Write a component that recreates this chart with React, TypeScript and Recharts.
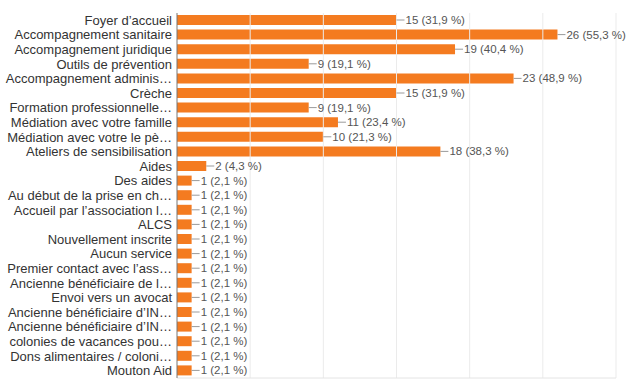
import { Bar, BarChart, LabelList, ReferenceLine, XAxis, YAxis } from 'recharts'

const categories = [
  'Foyer d’accueil',
  'Accompagnement sanitaire',
  'Accompagnement juridique',
  'Outils de prévention',
  'Accompagnement adminis…',
  'Crèche',
  'Formation professionnelle…',
  'Médiation avec votre famille',
  'Médiation avec votre le pè…',
  'Ateliers de sensibilisation',
  'Aides',
  'Des aides',
  'Au début de la prise en ch…',
  'Accueil par l’association l…',
  'ALCS',
  'Nouvellement inscrite',
  'Aucun service',
  'Premier contact avec l’ass…',
  'Ancienne bénéficiaire de l…',
  'Envoi vers un avocat',
  'Ancienne bénéficiaire d’IN…',
  'Ancienne bénéficiaire d’IN…',
  'colonies de vacances pou…',
  'Dons alimentaires / coloni…',
  'Mouton Aid'
]

const counts = [15, 26, 19, 9, 23, 15, 9, 11, 10, 18, 2, 1, 1, 1, 1, 1, 1, 1, 1, 1, 1, 1, 1, 1, 1]

const percents = [
  '31,9', '55,3', '40,4', '19,1', '48,9', '31,9', '19,1', '23,4', '21,3', '38,3', '4,3',
  '2,1', '2,1', '2,1', '2,1', '2,1', '2,1', '2,1', '2,1', '2,1', '2,1', '2,1', '2,1', '2,1', '2,1'
]

const gridValues = [5, 10, 15, 20, 25, 30]

const data = categories.map((name, i) => ({
  key: String(i),
  name,
  count: counts[i],
  label: `${counts[i]} (${percents[i]} %)`
}))

const FONT = 'Liberation Sans, Arial, sans-serif'

function CategoryTick(props: any) {
  const { x, y, payload } = props
  return (
    <text
      x={Number(x) - 3}
      y={Number(y)}
      dy={4.5}
      textAnchor="end"
      fontSize={13}
      fontFamily={FONT}
      fill="#333"
    >
      {categories[Number(payload.value)]}
    </text>
  )
}

function ValueLabel(props: any) {
  const { x, y, width, height, index } = props
  const endX = Number(x) + Number(width)
  const cy = Number(y) + Number(height) / 2
  return (
    <g>
      <line x1={endX} y1={cy} x2={endX + 8} y2={cy} stroke="#9a9a9a" strokeWidth={1} />
      <text x={endX + 9} y={cy} dy={4} fontSize={11.5} fontFamily={FONT} fill="#555">
        {data[index].label}
      </text>
    </g>
  )
}

export default function App() {
  return (
    <div style={{ position: 'fixed', left: 0, top: 0, width: 638, height: 385, background: '#fff' }}>
      <BarChart
        width={638}
        height={385}
        data={data}
        layout="vertical"
        margin={{ top: 13, right: 22, left: 0, bottom: 6 }}
        barCategoryGap={0}
      >
        <XAxis
          type="number"
          domain={[0, 30]}
          height={1}
          tick={false}
          tickLine={false}
          axisLine={{ stroke: '#e4e4e4' }}
        />
        <YAxis
          type="category"
          dataKey="key"
          width={177}
          interval={0}
          tickLine={false}
          tickSize={0}
          axisLine={{ stroke: '#777' }}
          tick={<CategoryTick />}
        />
        {gridValues.map((v) => (
          <ReferenceLine key={v} x={v} stroke="#ebebeb" />
        ))}
        <Bar dataKey="count" fill="#f47b20" barSize={10} isAnimationActive={false}>
          <LabelList dataKey="label" content={<ValueLabel />} />
        </Bar>
      </BarChart>
    </div>
  )
}
